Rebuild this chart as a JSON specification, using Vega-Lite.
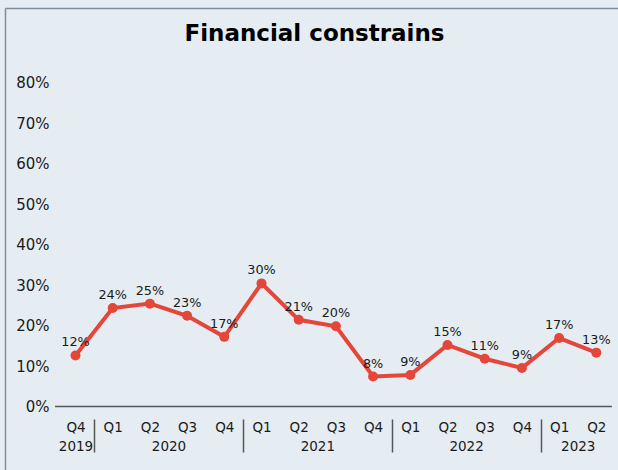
{
  "$schema": "https://vega.github.io/schema/vega-lite/v6.json",
  "width": 613,
  "height": 462,
  "autosize": {"type": "none"},
  "padding": {"left": 5, "top": 8, "right": 0, "bottom": 0},
  "background": "#e5edf3",
  "title": {
    "text": "Financial constrains",
    "font": "DejaVu Sans",
    "fontSize": 23,
    "fontWeight": "bold",
    "color": "#000000",
    "anchor": "middle",
    "frame": "group",
    "dx": 3,
    "offset": -38
  },
  "config": {"view": {"stroke": null}, "font": "DejaVu Sans"},
  "data": {
    "values": [
      {"i": 0, "quarter": "Q4", "year": "2019", "v": 12.6, "label": "12%"},
      {"i": 1, "quarter": "Q1", "year": "2020", "v": 24.3, "label": "24%"},
      {"i": 2, "quarter": "Q2", "year": "2020", "v": 25.4, "label": "25%"},
      {"i": 3, "quarter": "Q3", "year": "2020", "v": 22.4, "label": "23%"},
      {"i": 4, "quarter": "Q4", "year": "2020", "v": 17.2, "label": "17%"},
      {"i": 5, "quarter": "Q1", "year": "2021", "v": 30.4, "label": "30%"},
      {"i": 6, "quarter": "Q2", "year": "2021", "v": 21.4, "label": "21%"},
      {"i": 7, "quarter": "Q3", "year": "2021", "v": 19.8, "label": "20%"},
      {"i": 8, "quarter": "Q4", "year": "2021", "v": 7.4, "label": "8%"},
      {"i": 9, "quarter": "Q1", "year": "2022", "v": 7.8, "label": "9%"},
      {"i": 10, "quarter": "Q2", "year": "2022", "v": 15.2, "label": "15%"},
      {"i": 11, "quarter": "Q3", "year": "2022", "v": 11.8, "label": "11%"},
      {"i": 12, "quarter": "Q4", "year": "2022", "v": 9.5, "label": "9%"},
      {"i": 13, "quarter": "Q1", "year": "2023", "v": 16.9, "label": "17%"},
      {"i": 14, "quarter": "Q2", "year": "2023", "v": 13.3, "label": "13%"}
    ]
  },
  "encoding": {
    "x": {
      "field": "i",
      "type": "quantitative",
      "scale": {"domain": [-1.895, 14.583], "nice": false, "zero": false},
      "axis": {
        "title": null,
        "orient": "bottom",
        "offset": -51,
        "domain": false,
        "grid": false,
        "ticks": true,
        "tickSize": 33,
        "tickWidth": 1.5,
        "tickColor": "#555555",
        "tickOpacity": {"condition": {"test": "(datum.value - 0.5) % 4 == 0", "value": 1}, "value": 0},
        "values": [0, 0.5, 1, 2, 2.5, 3, 4, 4.5, 5, 6, 6.5, 7, 8, 8.5, 9, 10, 10.5, 11, 12, 12.5, 13, 13.5, 14],
        "labelExpr": "datum.value == 0 ? ['Q4', '2019'] : datum.value == 2.5 ? ['', '2020'] : datum.value == 6.5 ? ['', '2021'] : datum.value == 10.5 ? ['', '2022'] : datum.value == 13.5 ? ['', '2023'] : datum.value % 1 != 0 ? '' : 'Q' + (((datum.value + 3) % 4) + 1)",
        "labelOverlap": false,
        "labelFlush": false,
        "labelBound": false,
        "labelAlign": "center",
        "labelBaseline": "top",
        "labelPadding": -32,
        "labelLineHeight": 19,
        "labelFont": "DejaVu Sans",
        "labelFontSize": 13.5,
        "labelColor": "#1a1a1a"
      }
    },
    "y": {
      "field": "v",
      "type": "quantitative",
      "scale": {"domain": [-15.68, 98.4], "nice": false, "zero": false},
      "axis": {
        "title": null,
        "values": [0, 10, 20, 30, 40, 50, 60, 70, 80, 98.4],
        "labelExpr": "datum.value > 90 ? '' : datum.value + '%'",
        "ticks": false,
        "domain": true,
        "domainColor": "#7d8e9b",
        "domainWidth": 1.5,
        "grid": true,
        "gridColor": "#7d8e9b",
        "gridWidth": 1.5,
        "gridOpacity": {"condition": {"test": "datum.value > 90", "value": 1}, "value": 0},
        "labelPadding": -44,
        "labelAlign": "right",
        "labelFont": "DejaVu Sans",
        "labelFontSize": 15,
        "labelColor": "#1a1a1a"
      }
    }
  },
  "layer": [
    {
      "data": {"values": [{"start": -0.55, "end": 14.42, "base": 0}]},
      "mark": {"type": "rule", "color": "#555555", "strokeWidth": 1.5},
      "encoding": {
        "x": {"field": "start", "type": "quantitative"},
        "x2": {"field": "end"},
        "y": {"field": "base", "type": "quantitative"}
      }
    },
    {
      "mark": {"type": "line", "color": "#e4473a", "strokeWidth": 4}
    },
    {
      "mark": {"type": "circle", "color": "#e4473a", "size": 100, "opacity": 1}
    },
    {
      "mark": {"type": "text", "dy": -9, "baseline": "alphabetic", "fontSize": 12.8, "font": "DejaVu Sans", "color": "#1a1a1a"},
      "encoding": {"text": {"field": "label"}}
    }
  ]
}
